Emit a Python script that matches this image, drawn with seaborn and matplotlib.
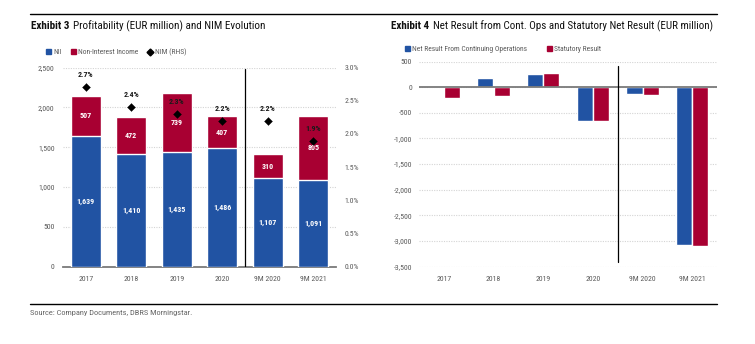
import numpy as np
import pandas as pd
import matplotlib
matplotlib.use("Agg")
import matplotlib.pyplot as plt
from matplotlib.lines import Line2D
from matplotlib.patches import Patch
from matplotlib.ticker import FuncFormatter, MultipleLocator
import seaborn as sns

# ---- data -------------------------------------------------------------
periods = ["2017", "2018", "2019", "2020", "9M 2020", "9M 2021"]
nii = [1639, 1410, 1435, 1486, 1107, 1091]
non_interest_income = [507, 472, 739, 407, 310, 805]
nim_pct = [2.7, 2.4, 2.3, 2.2, 2.2, 1.9]

net_result_cont_ops = [-5, 170, 260, -655, -136, -3080]
statutory_result = [-210, -170, 280, -665, -150, -3090]

# ---- style ------------------------------------------------------------
sns.set_theme(style="white")
plt.rcParams["font.family"] = ["Roboto Condensed", "Liberation Sans",
                               "DejaVu Sans"]

BLUE = "#2153a3"
RED = "#a80032"
GREY_TXT = "#5a5a5a"
GRID = "#d4d4d4"
TICK_FS = 5.6
LABEL_FS = 5.8
LEGEND_FS = 5.4

fig = plt.figure(figsize=(7.55, 3.44), dpi=100)
W, H = 755, 344


def fx(px):
    return px / W


def fy(py):
    return 1 - py / H


def title(x_px, right_px, bold, rest):
    """Bold exhibit tag followed by a regular title, sized to span to right_px."""
    r = fig.canvas.get_renderer()
    fs = 8.0
    t1 = fig.text(fx(x_px), fy(26), bold, fontsize=fs, fontweight="bold",
                  va="center", ha="left", color="#111111")
    t2 = fig.text(0, fy(26), rest, fontsize=fs, va="center", ha="left",
                  color="#111111")

    def place():
        b1 = t1.get_window_extent(r)
        t2.set_x((b1.x1 + 0.45 * t1.get_fontsize()) / fig.bbox.width)

    place()
    w = t2.get_window_extent(r).x1 - fig.bbox.width * fx(x_px)
    fs2 = fs * min((right_px - x_px) / w, 1.2)
    t1.set_fontsize(fs2)
    t2.set_fontsize(fs2)
    place()


# ---- Exhibit 3 ---------------------------------------------------------
ax1 = fig.add_axes([fx(63), fy(266.7), fx(336) - fx(63), (266.7 - 67.5) / H])
totals = [a + b for a, b in zip(nii, non_interest_income)]
sns.barplot(x=periods, y=totals, color=RED, width=0.66, saturation=1,
            ax=ax1, zorder=2)
sns.barplot(x=periods, y=nii, color=BLUE, width=0.66, saturation=1,
            ax=ax1, zorder=3)
ax1.set_ylim(0, 2500)
ax1.set_xlim(-0.5, len(periods) - 0.5)
ax1.yaxis.set_major_locator(MultipleLocator(500))
ax1.yaxis.set_major_formatter(FuncFormatter(lambda v, p: f"{v:,.0f}"))
ax1.grid(axis="y", color=GRID, linestyle=(0, (1, 1.2)), linewidth=0.8, zorder=0)
ax1.set_axisbelow(True)
for s in ["top", "right", "left"]:
    ax1.spines[s].set_visible(False)
ax1.spines["bottom"].set_color("#7a7a7a")
ax1.spines["bottom"].set_linewidth(1.3)
ax1.tick_params(axis="both", length=0, labelsize=TICK_FS, colors=GREY_TXT)
ax1.tick_params(axis="x", pad=6.5)
ax1.tick_params(axis="y", pad=6)
ax1.set_xlabel("")
ax1.set_ylabel("")

for i, (a, b) in enumerate(zip(nii, non_interest_income)):
    ax1.text(i, a / 2, f"{a:,}", ha="center", va="center", color="white",
             fontsize=LABEL_FS, fontweight="bold", zorder=5)
    ax1.text(i, a + b / 2, f"{b:,}", ha="center", va="center", color="white",
             fontsize=LABEL_FS, fontweight="bold", zorder=5)

ax1.axvline(3.5, ymin=0, ymax=0.993, color="black", linewidth=0.9, zorder=4)

ax1b = ax1.twinx()
sns.scatterplot(x=list(range(len(periods))), y=nim_pct, marker="D", s=16,
                color="black", edgecolor="black", linewidth=0.3, ax=ax1b,
                zorder=6)
ax1b.set_ylim(0, 3.0)
ax1b.set_xlim(-0.5, len(periods) - 0.5)
ax1b.yaxis.set_major_locator(MultipleLocator(0.5))
ax1b.yaxis.set_major_formatter(FuncFormatter(lambda v, p: f"{v:.1f}%"))
ax1b.tick_params(axis="y", length=0, labelsize=TICK_FS, colors=GREY_TXT, pad=6)
for s in ["top", "right", "left", "bottom"]:
    ax1b.spines[s].set_visible(False)
ax1b.set_ylabel("")
for i, v in enumerate(nim_pct):
    ax1b.annotate(f"{v:.1f}%", (i, v), xytext=(0, 6.5), textcoords="offset points",
                  ha="center", va="bottom", fontsize=LABEL_FS, fontweight="bold",
                  color="#1a1a1a", zorder=7)

title(31, 266, "Exhibit 3", "Profitability (EUR million) and NIM Evolution")

h1 = [Patch(color=BLUE), Patch(color=RED),
      Line2D([], [], marker="D", color="black", linestyle="none", markersize=3.5)]
fig.legend(h1, ["NII", "Non-Interest Income", "NIM (RHS)"], loc="center left",
           bbox_to_anchor=(fx(46), fy(52.5)), ncol=3, frameon=False,
           fontsize=LEGEND_FS, handlelength=0.7, handleheight=0.7,
           handletextpad=0.3, columnspacing=1.2, labelcolor=GREY_TXT,
           borderaxespad=0, borderpad=0)

# ---- Exhibit 4 ---------------------------------------------------------
ax2 = fig.add_axes([fx(419), fy(266.7), fx(717) - fx(419), (266.7 - 61.5) / H])
s_cont = "Net Result From Continuing Operations"
s_stat = "Statutory Result"
df = pd.DataFrame({
    "period": periods * 2,
    "value": net_result_cont_ops + statutory_result,
    "series": [s_cont] * len(periods) + [s_stat] * len(periods),
})
sns.barplot(data=df, x="period", y="value", hue="series", order=periods,
            palette={s_cont: BLUE, s_stat: RED}, width=0.65, saturation=1,
            ax=ax2, zorder=2, legend=False)
ax2.set_ylim(-3500, 500)
ax2.set_xlim(-0.5, len(periods) - 0.5)
ax2.yaxis.set_major_locator(MultipleLocator(500))
ax2.yaxis.set_major_formatter(FuncFormatter(lambda v, p: f"{v:,.0f}"))
ax2.grid(axis="y", color=GRID, linestyle=(0, (1, 1.2)), linewidth=0.8, zorder=0)
ax2.set_axisbelow(True)
for s in ["top", "right", "left", "bottom"]:
    ax2.spines[s].set_visible(False)
ax2.axhline(0, color="#7a7a7a", linewidth=1.3, zorder=3)
ax2.tick_params(axis="both", length=0, labelsize=TICK_FS, colors=GREY_TXT)
ax2.tick_params(axis="x", pad=6.5)
ax2.tick_params(axis="y", pad=5)
ax2.set_xlabel("")
ax2.set_ylabel("")
ax2.axvline(3.5, ymin=(-3400 + 3500) / 4000, ymax=(420 + 3500) / 4000,
            color="black", linewidth=0.9, zorder=4)

title(391, 714, "Exhibit 4",
      "Net Result from Cont. Ops and Statutory Net Result (EUR million)")

h2 = [Patch(color=BLUE), Patch(color=RED)]
fig.legend(h2, [s_cont, s_stat], loc="center left",
           bbox_to_anchor=(fx(405), fy(49.5)), ncol=2, frameon=False,
           fontsize=LEGEND_FS, handlelength=0.7, handleheight=0.7,
           handletextpad=0.3, columnspacing=2.6, labelcolor=GREY_TXT,
           borderaxespad=0, borderpad=0)

# ---- frame rules and source -------------------------------------------
fig.add_artist(Line2D([fx(30), fx(717)], [fy(14.3), fy(14.3)], color="black",
                      linewidth=1.0))
fig.add_artist(Line2D([fx(30), fx(717)], [fy(303.5), fy(303.5)], color="black",
                      linewidth=1.0))
fig.text(fx(30), fy(312.5), "Source: Company Documents, DBRS Morningstar.",
         fontsize=6.0, color="#666666", va="center", ha="left")

fig.savefig("out.png", dpi=100)
